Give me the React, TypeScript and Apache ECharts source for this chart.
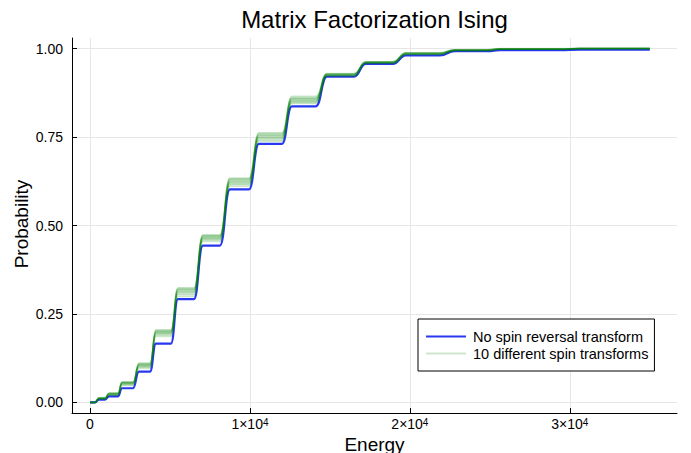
import React, { useEffect, useRef } from 'react';
import * as echarts from 'echarts';

// Energy bounds of each plateau of the cumulative distribution
const plateauStart = [0, 560, 1190, 2000, 3060, 4120, 5500, 7060, 8750, 10560, 12620, 14810, 17250, 19750, 22810, 25620, 30620];
const plateauEnd = [310, 940, 1750, 2690, 3750, 5060, 6500, 8120, 9940, 12000, 14120, 16500, 18940, 21880, 24880, 29380, 35000];

// Probability levels on each plateau
const blueLevels = [0.000, 0.008, 0.017, 0.040, 0.087, 0.166, 0.292, 0.443, 0.602, 0.731, 0.837, 0.921, 0.957, 0.981, 0.993, 0.996, 0.997];
const green1 = [0.000, 0.009, 0.020, 0.048, 0.096, 0.186, 0.299, 0.455, 0.611, 0.738, 0.845, 0.922, 0.958, 0.983, 0.994, 0.998, 1.000];
const green2 = [0.000, 0.010, 0.022, 0.050, 0.099, 0.190, 0.304, 0.458, 0.615, 0.742, 0.848, 0.923, 0.959, 0.984, 0.995, 0.998, 1.000];
const green3 = [0.000, 0.010, 0.021, 0.052, 0.101, 0.193, 0.308, 0.461, 0.618, 0.745, 0.850, 0.924, 0.960, 0.985, 0.995, 0.998, 1.000];
const green4 = [0.000, 0.011, 0.023, 0.053, 0.103, 0.195, 0.311, 0.463, 0.621, 0.748, 0.852, 0.925, 0.960, 0.985, 0.995, 0.999, 1.000];
const green5 = [0.000, 0.011, 0.024, 0.054, 0.104, 0.197, 0.313, 0.465, 0.623, 0.750, 0.854, 0.926, 0.961, 0.986, 0.996, 0.999, 1.000];
const green6 = [0.000, 0.012, 0.024, 0.055, 0.106, 0.199, 0.316, 0.467, 0.625, 0.753, 0.856, 0.927, 0.961, 0.986, 0.996, 0.999, 1.000];
const green7 = [0.000, 0.012, 0.025, 0.056, 0.107, 0.200, 0.318, 0.469, 0.628, 0.755, 0.858, 0.927, 0.962, 0.987, 0.996, 0.999, 1.000];
const green8 = [0.000, 0.013, 0.025, 0.056, 0.108, 0.202, 0.320, 0.470, 0.630, 0.757, 0.860, 0.928, 0.962, 0.987, 0.997, 0.999, 1.000];
const green9 = [0.000, 0.013, 0.026, 0.057, 0.110, 0.203, 0.322, 0.472, 0.632, 0.760, 0.862, 0.929, 0.963, 0.988, 0.997, 0.999, 1.000];
const green10 = [0.000, 0.014, 0.027, 0.058, 0.111, 0.205, 0.324, 0.474, 0.634, 0.762, 0.865, 0.930, 0.963, 0.988, 0.997, 1.000, 1.000];
const greenSets = [green1, green2, green3, green4, green5, green6, green7, green8, green9, green10];

const xTicks = [0, 10000, 20000, 30000];
const yTicks = [0, 0.25, 0.5, 0.75, 1];

const titleText = 'Matrix Factorization Ising';
const xName = 'Energy';
const yName = 'Probability';
const blueName = 'No spin reversal transform';
const greenName = '10 different spin transforms';

const FONT = '"Liberation Sans", Arial, Helvetica, sans-serif';

function buildPoints(levels: number[]): number[][] {
  const pts: number[][] = [];
  levels.forEach((v, i) => {
    pts.push([plateauStart[i], v]);
    pts.push([plateauEnd[i], v]);
  });
  return pts;
}

export default function App() {
  const ref = useRef<HTMLDivElement>(null);
  useEffect(() => {
    if (!ref.current) return;
    const chart = echarts.init(ref.current, null, { renderer: 'svg' });
    const blueColor = 'rgb(40,56,240)';
    const greenColor = 'rgba(0,128,0,0.2)';
    const series: any[] = [
      {
        name: blueName,
        type: 'line',
        data: buildPoints(blueLevels),
        showSymbol: false,
        symbol: 'none',
        smooth: 0.5,
        smoothMonotone: 'x',
        color: blueColor,
        itemStyle: { color: blueColor },
        lineStyle: { color: blueColor, width: 2.2 },
        z: 2,
      },
      ...greenSets.map((g) => ({
        name: greenName,
        type: 'line',
        data: buildPoints(g),
        showSymbol: false,
        symbol: 'none',
        smooth: 0.5,
        smoothMonotone: 'x',
        color: greenColor,
        itemStyle: { color: greenColor },
        lineStyle: { color: greenColor, width: 1.5 },
        z: 3,
      })),
    ];
    chart.setOption({
      animation: false,
      backgroundColor: '#ffffff',
      textStyle: { fontFamily: FONT },
      grid: { left: 72, right: 14, top: 38, bottom: 40, containLabel: false },
      xAxis: {
        type: 'value',
        min: -1125,
        max: 36700,
        axisLine: { show: true, onZero: false, lineStyle: { color: '#000', width: 1 } },
        axisTick: { show: true, inside: true, length: 5, customValues: xTicks, lineStyle: { color: '#000' } },
        splitLine: { show: true, lineStyle: { color: '#e6e6e6', width: 1 } },
        axisLabel: {
          customValues: xTicks,
          margin: 4,
          color: '#000',
          fontFamily: FONT,
          fontSize: 14,
          formatter: (v: number) => (v === 0 ? '{z|0}' : `{n|${Math.round(v / 10000)}×10}{s|4}`),
          rich: {
            z: { fontSize: 14, lineHeight: 14, fontFamily: FONT, color: '#000' },
            n: { fontSize: 14, lineHeight: 14, padding: [6, 0, 0, 0], verticalAlign: 'bottom', fontFamily: FONT, color: '#000' },
            s: { fontSize: 10, lineHeight: 10, verticalAlign: 'top', fontFamily: FONT, color: '#000' },
          },
        },
      },
      yAxis: {
        type: 'value',
        min: -0.03,
        max: 1.03,
        axisLine: { show: true, onZero: false, lineStyle: { color: '#000', width: 1 } },
        axisTick: { show: true, inside: true, length: 5, customValues: yTicks, lineStyle: { color: '#000' } },
        splitLine: { show: true, lineStyle: { color: '#e6e6e6', width: 1 } },
        axisLabel: {
          customValues: yTicks,
          margin: 9,
          color: '#000',
          fontFamily: FONT,
          fontSize: 14,
          formatter: (v: number) => v.toFixed(2),
        },
      },
      legend: {
        show: true,
        data: [blueName, greenName],
        orient: 'vertical',
        left: 418,
        top: 319,
        padding: [9, 6, 9, 8],
        itemGap: 0,
        itemWidth: 40,
        itemHeight: 2,
        icon: 'rect',
        selectedMode: false,
        borderColor: '#000',
        borderWidth: 1,
        backgroundColor: '#fff',
        textStyle: { fontFamily: FONT, fontSize: 14.5, color: '#000', lineHeight: 17, padding: [0, 0, 0, 2] },
      },
      graphic: [
        {
          type: 'text',
          x: 374.5,
          y: 19,
          style: { text: titleText, fontFamily: FONT, fontSize: 24, fill: '#000', textAlign: 'center', textVerticalAlign: 'middle' },
        },
        {
          type: 'text',
          x: 374.5,
          y: 444,
          style: { text: xName, fontFamily: FONT, fontSize: 19, fill: '#000', textAlign: 'center', textVerticalAlign: 'middle' },
        },
        {
          type: 'text',
          x: 21,
          y: 224,
          rotation: Math.PI / 2,
          style: { text: yName, fontFamily: FONT, fontSize: 19, fill: '#000', textAlign: 'center', textVerticalAlign: 'middle' },
        },
      ],
      series,
    });
    return () => chart.dispose();
  }, []);
  return <div ref={ref} style={{ position: 'absolute', left: 0, top: 0, width: 691, height: 453 }} />;
}
